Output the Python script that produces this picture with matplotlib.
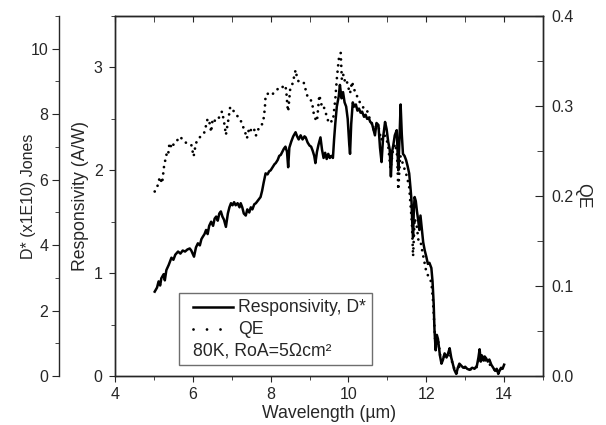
import matplotlib
matplotlib.use('Agg')
import matplotlib.pyplot as plt
from matplotlib.lines import Line2D
from matplotlib.ticker import MultipleLocator
from matplotlib.offsetbox import AnchoredOffsetbox, DrawingArea, TextArea, HPacker, VPacker

plt.rcParams['font.family'] = ['Liberation Sans', 'DejaVu Sans']

# responsivity (A/W) vs wavelength (um)
wl_resp = [5.02, 5.08, 5.12, 5.16, 5.19, 5.25, 5.28, 5.32, 5.38, 5.45,
           5.5, 5.55, 5.62, 5.68, 5.74, 5.8, 5.86, 5.92, 5.96, 6.03,
           6.08, 6.13, 6.18, 6.22, 6.25, 6.3, 6.34, 6.38, 6.42, 6.47,
           6.52, 6.56, 6.6, 6.64, 6.68, 6.72, 6.76, 6.8, 6.85, 6.9,
           6.94, 6.98, 7.02, 7.06, 7.1, 7.15, 7.2, 7.23, 7.27, 7.31,
           7.36, 7.4, 7.45, 7.49, 7.53, 7.58, 7.62, 7.66, 7.7, 7.74,
           7.78, 7.82, 7.87, 7.92, 7.96, 8.0, 8.05, 8.1, 8.13, 8.18,
           8.22, 8.26, 8.3, 8.34, 8.38, 8.42, 8.45, 8.48, 8.53, 8.58,
           8.64, 8.68, 8.72, 8.77, 8.82, 8.87, 8.9, 8.95, 9.0, 9.04,
           9.08, 9.12, 9.15, 9.19, 9.23, 9.28, 9.32, 9.36, 9.4, 9.44,
           9.48, 9.52, 9.56, 9.6, 9.63, 9.66, 9.7, 9.75, 9.78, 9.82,
           9.86, 9.9, 9.94, 9.98, 10.02, 10.04, 10.07, 10.11, 10.15, 10.19,
           10.23, 10.27, 10.31, 10.35, 10.4, 10.44, 10.48, 10.52, 10.56, 10.6,
           10.64, 10.68, 10.72, 10.77, 10.81, 10.85, 10.89, 10.94, 10.98, 11.02,
           11.06, 11.09, 11.12, 11.15, 11.19, 11.24, 11.28, 11.31, 11.34, 11.37,
           11.4, 11.44, 11.48, 11.52, 11.56, 11.6, 11.62, 11.64, 11.66, 11.68,
           11.7, 11.73, 11.76, 11.79, 11.82, 11.85, 11.88, 11.92, 11.96, 12.0,
           12.04, 12.08, 12.13, 12.16, 12.19, 12.21, 12.24, 12.27, 12.3, 12.35,
           12.39, 12.43, 12.47, 12.52, 12.56, 12.6, 12.64, 12.68, 12.72, 12.77,
           12.81, 12.85, 12.9, 12.95, 13.0, 13.05, 13.11, 13.18, 13.24, 13.3,
           13.34, 13.37, 13.4, 13.43, 13.47, 13.5, 13.54, 13.58, 13.62, 13.67,
           13.72, 13.77, 13.81, 13.85, 13.88, 13.92, 13.96, 14.0]
responsivity = [0.82, 0.86, 0.92, 0.88, 0.95, 0.99, 0.93, 1.03, 1.08, 1.15,
                1.13, 1.18, 1.21, 1.19, 1.22, 1.21, 1.23, 1.24, 1.22, 1.16,
                1.25, 1.29, 1.27, 1.33, 1.35, 1.38, 1.42, 1.38, 1.46, 1.50,
                1.46, 1.53, 1.55, 1.51, 1.58, 1.60, 1.55, 1.52, 1.45, 1.58,
                1.64, 1.68, 1.66, 1.69, 1.66, 1.68, 1.64, 1.68, 1.64, 1.58,
                1.56, 1.62, 1.59, 1.64, 1.62, 1.67, 1.68, 1.70, 1.72, 1.74,
                1.80, 1.88, 1.97, 1.96, 1.99, 2.00, 2.03, 2.06, 2.07, 2.10,
                2.14, 2.15, 2.18, 2.21, 2.23, 2.18, 2.03, 2.22, 2.28, 2.33,
                2.37, 2.33, 2.30, 2.34, 2.30, 2.33, 2.32, 2.27, 2.24, 2.23,
                2.19, 2.14, 2.07, 2.18, 2.25, 2.32, 2.20, 2.12, 2.17, 2.11,
                2.16, 2.12, 2.14, 2.12, 2.30, 2.45, 2.62, 2.72, 2.83, 2.70,
                2.76, 2.66, 2.62, 2.50, 2.25, 2.16, 2.45, 2.66, 2.62, 2.64,
                2.58, 2.60, 2.56, 2.57, 2.52, 2.54, 2.50, 2.51, 2.47, 2.46,
                2.40, 2.34, 2.46, 2.44, 2.22, 2.08, 2.32, 2.47, 2.40, 2.28,
                2.20, 1.94, 2.18, 2.24, 2.34, 2.39, 2.00, 2.30, 2.64, 2.35,
                2.16, 2.14, 2.10, 2.04, 1.97, 1.80, 1.70, 1.48, 1.35, 1.62,
                1.74, 1.70, 1.60, 1.52, 1.42, 1.56, 1.45, 1.30, 1.22, 1.16,
                1.09, 1.10, 1.05, 0.92, 0.70, 0.45, 0.25, 0.40, 0.36, 0.20,
                0.12, 0.16, 0.22, 0.18, 0.22, 0.27, 0.18, 0.12, 0.06, 0.02,
                0.08, 0.12, 0.10, 0.08, 0.09, 0.07, 0.06, 0.08, 0.07, 0.10,
                0.18, 0.26, 0.14, 0.20, 0.15, 0.19, 0.17, 0.14, 0.16, 0.11,
                0.08, 0.05, 0.07, 0.02, 0.05, 0.08, 0.07, 0.11]

# quantum efficiency vs wavelength (um)
wl_qe = [5.02, 5.1, 5.15, 5.21, 5.26, 5.32, 5.36, 5.4, 5.46, 5.53,
         5.6, 5.68, 5.74, 5.79, 5.88, 5.96, 6.02, 6.08, 6.14, 6.19,
         6.25, 6.3, 6.38, 6.44, 6.47, 6.51, 6.58, 6.64, 6.7, 6.75,
         6.8, 6.85, 6.91, 6.96, 7.02, 7.09, 7.16, 7.22, 7.3, 7.35,
         7.39, 7.45, 7.51, 7.57, 7.62, 7.7, 7.76, 7.81, 7.85, 7.87,
         7.94, 8.0, 8.07, 8.13, 8.2, 8.26, 8.32, 8.38, 8.41, 8.43,
         8.45, 8.5, 8.55, 8.6, 8.64, 8.68, 8.72, 8.78, 8.85, 8.9,
         8.95, 9.0, 9.06, 9.12, 9.19, 9.25, 9.32, 9.36, 9.4, 9.45,
         9.49, 9.55, 9.6, 9.66, 9.7, 9.75, 9.8, 9.83, 9.87, 9.92,
         9.96, 10.0, 10.04, 10.09, 10.15, 10.21, 10.28, 10.34, 10.4, 10.47,
         10.53, 10.6, 10.66, 10.72, 10.78, 10.84, 10.9, 10.96, 11.02, 11.08,
         11.14, 11.2, 11.25, 11.28, 11.33, 11.38, 11.44, 11.5, 11.56, 11.6,
         11.63, 11.66, 11.7, 11.75, 11.8, 11.85, 11.9, 11.96, 11.99, 12.04,
         12.08, 12.13, 12.17, 12.2, 12.24, 12.28, 12.32, 12.37, 12.42, 12.47,
         12.53, 12.6, 12.66, 12.72, 12.78, 12.85, 12.92, 13.0, 13.1, 13.2,
         13.3, 13.37, 13.43, 13.5, 13.58, 13.67, 13.77, 13.87, 13.94, 14.0]
qe = [0.205, 0.212, 0.221, 0.214, 0.233, 0.246, 0.244, 0.259, 0.253, 0.260,
      0.262, 0.266, 0.262, 0.260, 0.258, 0.257, 0.244, 0.259, 0.262, 0.266,
      0.268, 0.271, 0.286, 0.280, 0.271, 0.286, 0.283, 0.284, 0.290, 0.294,
      0.283, 0.268, 0.284, 0.299, 0.296, 0.292, 0.288, 0.285, 0.276, 0.270,
      0.264, 0.276, 0.272, 0.275, 0.267, 0.276, 0.278, 0.283, 0.297, 0.312,
      0.314, 0.312, 0.314, 0.316, 0.320, 0.322, 0.321, 0.323, 0.312, 0.300,
      0.294, 0.318, 0.323, 0.332, 0.340, 0.331, 0.327, 0.326, 0.326, 0.318,
      0.310, 0.308, 0.305, 0.288, 0.283, 0.312, 0.299, 0.300, 0.294, 0.288,
      0.281, 0.283, 0.283, 0.307, 0.330, 0.352, 0.359, 0.329, 0.335, 0.325,
      0.327, 0.320, 0.314, 0.327, 0.318, 0.312, 0.305, 0.301, 0.297, 0.296,
      0.288, 0.280, 0.272, 0.279, 0.275, 0.262, 0.268, 0.266, 0.256, 0.230,
      0.250, 0.258, 0.245, 0.207, 0.245, 0.238, 0.230, 0.222, 0.210, 0.188,
      0.170, 0.133, 0.175, 0.168, 0.150, 0.150, 0.138, 0.125, 0.118, 0.112,
      0.109, 0.104, 0.085, 0.062, 0.030, 0.042, 0.036, 0.018, 0.016, 0.024,
      0.022, 0.026, 0.016, 0.008, 0.003, 0.011, 0.010, 0.009, 0.007, 0.008,
      0.010, 0.022, 0.018, 0.018, 0.015, 0.011, 0.006, 0.006, 0.008, 0.010]

ink = '#262626'
tick_fs = 11.5
label_fs = 12.7

fig = plt.figure(figsize=(6.06, 4.25), dpi=100)
ax = fig.add_axes([0.1898, 0.1153, 0.7063, 0.847])

ax.plot(wl_resp, responsivity, color='black', lw=1.8, solid_joinstyle='round')
ax.set_xlim(4, 15)
ax.set_ylim(0, 3.5)
ax.xaxis.set_minor_locator(MultipleLocator(1))
ax.yaxis.set_major_locator(MultipleLocator(1))
ax.yaxis.set_minor_locator(MultipleLocator(0.5))
ax.set_xticks([4, 6, 8, 10, 12, 14])
ax.tick_params(axis='x', which='both', direction='out', top=False, labelsize=tick_fs, colors=ink, pad=4)
ax.tick_params(axis='x', which='major', length=4)
ax.tick_params(axis='x', which='minor', length=3)
ax.tick_params(axis='y', which='both', direction='out', right=False, labelsize=tick_fs, colors=ink, pad=5)
ax.tick_params(axis='y', which='major', length=4)
ax.tick_params(axis='y', which='minor', length=3)
ax.set_xlabel('Wavelength (µm)', fontsize=label_fs, color=ink, va='center')
ax.xaxis.set_label_coords(0.5, -0.103)
ax.set_ylabel('Responsivity (A/W)', fontsize=label_fs, color=ink, va='center')
ax.yaxis.set_label_coords(-0.081, 0.5)

# top ticks point inward
ax_top = ax.secondary_xaxis('top')
ax_top.set_xticks([4, 6, 8, 10, 12, 14])
ax_top.xaxis.set_minor_locator(MultipleLocator(1))
ax_top.tick_params(which='both', direction='in', labeltop=False, length=4, colors=ink)

# QE axis on the right
ax2 = ax.twinx()
ax2.plot(wl_qe, qe, color='black', lw=2.0, linestyle=(0, (0.01, 2.3)), dash_capstyle='round')
ax2.set_ylim(0, 0.4)
ax2.yaxis.set_major_locator(MultipleLocator(0.1))
ax2.yaxis.set_minor_locator(MultipleLocator(0.05))
ax2.yaxis.set_major_formatter(lambda v, p: f'{v:.1f}')
ax2.tick_params(axis='y', which='both', direction='in', labelsize=tick_fs, colors=ink, pad=6)
ax2.tick_params(axis='y', which='major', length=6)
ax2.tick_params(axis='y', which='minor', length=4)
ax2.set_ylabel('QE', fontsize=label_fs, color=ink, rotation=270, va='center')
ax2.yaxis.set_label_coords(1.093, 0.5)

# outer D* axis on the left
ax3 = ax.twinx()
ax3.set_ylim(0, 11)
ax3.spines['left'].set_position(('outward', 40))
ax3.spines['left'].set_visible(True)
ax3.spines['right'].set_visible(False)
ax3.spines['top'].set_visible(False)
ax3.spines['bottom'].set_visible(False)
ax3.yaxis.set_ticks_position('left')
ax3.yaxis.set_label_position('left')
ax3.yaxis.set_major_locator(MultipleLocator(2))
ax3.yaxis.set_minor_locator(MultipleLocator(1))
ax3.tick_params(axis='y', which='both', direction='out', labelsize=tick_fs, colors=ink, pad=3)
ax3.tick_params(axis='y', which='major', length=5)
ax3.tick_params(axis='y', which='minor', length=3)
ax3.set_ylabel('D* (x1E10) Jones', fontsize=11.5, color=ink, va='center')
ax3.yaxis.set_label_coords(-0.203, 0.5)

for a in (ax, ax2, ax3):
    for s in a.spines.values():
        s.set_color(ink)
        s.set_linewidth(1.0)


def legend_row(style, text):
    da = DrawingArea(35, 10, 0, 0)
    if style is not None:
        da.add_artist(Line2D([6, 35], [5, 5], color='black', **style))
    ta = TextArea(text, textprops=dict(size=label_fs, color=ink))
    return HPacker(children=[da, ta], align='center', pad=0, sep=3.6)


rows = [
    legend_row(dict(linestyle='-', lw=1.8), 'Responsivity, D*'),
    legend_row(dict(linestyle=(0, (0.01, 4.85)), dash_capstyle='round', lw=2.0), 'QE'),
    HPacker(children=[DrawingArea(6, 10, 0, 0),
                      TextArea('80K, RoA=5Ωcm²', textprops=dict(size=label_fs, color=ink))],
            align='center', pad=0, sep=0),
]
box = VPacker(children=rows, align='left', pad=0, sep=3.5)
anchored = AnchoredOffsetbox(loc='upper left', child=box, pad=0.4, borderpad=0,
                             bbox_to_anchor=(0.15, 0.23), bbox_transform=ax.transAxes,
                             frameon=True)
anchored.patch.set_edgecolor('#6e6e6e')
anchored.patch.set_linewidth(1.0)
anchored.patch.set_boxstyle('square', pad=0)
ax2.add_artist(anchored)

fig.savefig('out.png', dpi=100)
